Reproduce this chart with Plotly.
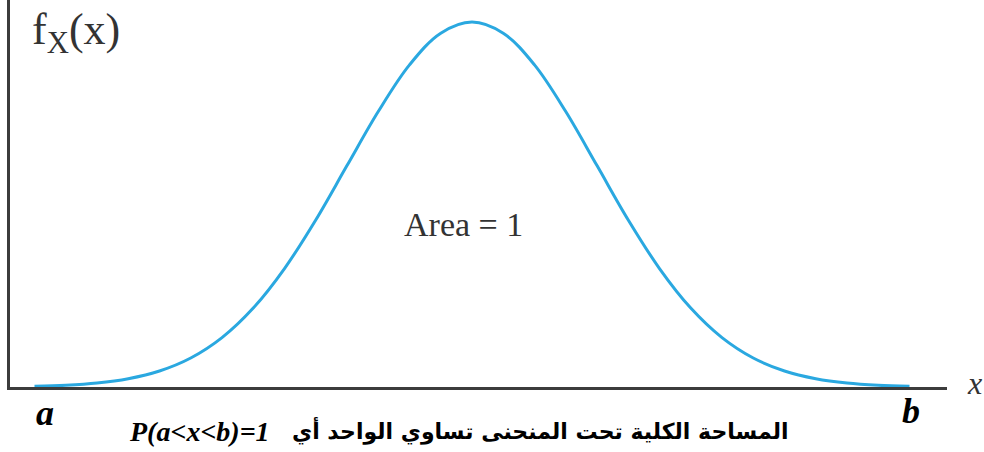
import plotly.graph_objects as go

# Density curve f_X(x), sampled in standard-deviation units
x_vals = [-3.5, -3.25, -3.0, -2.75, -2.5, -2.25, -2.0, -1.75, -1.5, -1.25, -1.0, -0.75, -0.5, -0.25,
          0.0, 0.25, 0.5, 0.75, 1.0, 1.25, 1.5, 1.75, 2.0, 2.25, 2.5, 2.75, 3.0, 3.25, 3.5]
fx_vals = [0.0009, 0.0020, 0.0044, 0.0091, 0.0175, 0.0317, 0.0540, 0.0863, 0.1295, 0.1826, 0.2420, 0.3011, 0.3521, 0.3867,
           0.3989, 0.3867, 0.3521, 0.3011, 0.2420, 0.1826, 0.1295, 0.0863, 0.0540, 0.0317, 0.0175, 0.0091, 0.0044, 0.0020, 0.0009]

curve_color = "#2aa8e0"
axis_color = "#3c3c3c"
serif = "Liberation Serif, Times New Roman, serif"

fig = go.Figure()
fig.add_trace(go.Scatter(
    x=x_vals, y=fx_vals, mode="lines",
    line=dict(color=curve_color, width=3, shape="spline", smoothing=1.0),
    hoverinfo="skip", showlegend=False,
))

axis_common = dict(showline=True, linecolor=axis_color, linewidth=2.5, showgrid=False,
                   zeroline=False, showticklabels=False, ticks="", fixedrange=True)

fig.update_layout(
    width=984, height=452,
    margin=dict(l=10, r=37, t=0, b=65, pad=0),
    paper_bgcolor="white", plot_bgcolor="white",
    xaxis=dict(range=[-3.696, 3.8], **axis_common),
    yaxis=dict(range=[0, 0.423], **axis_common),
)

annotations = [
    # y-axis label
    dict(text="f<sub>X</sub>(x)", x=0.0213, y=0.915, xref="paper", yref="paper",
         xanchor="left", yanchor="middle", showarrow=False,
         font=dict(family=serif, size=44, color="#333333")),
    # area label inside the curve
    dict(text="Area = 1", x=-0.07, y=0.178, xref="x", yref="y",
         xanchor="center", yanchor="middle", showarrow=False,
         font=dict(family=serif, size=34, color="#333333")),
    # x-axis label
    dict(text="<i>x</i>", x=1.029, y=0.01, xref="paper", yref="paper",
         xanchor="center", yanchor="middle", showarrow=False,
         font=dict(family=serif, size=32, color="#333333")),
    # interval end points
    dict(text="<b><i>a</i></b>", x=0.0374, y=-0.067, xref="paper", yref="paper",
         xanchor="center", yanchor="middle", showarrow=False,
         font=dict(family=serif, size=36, color="black")),
    dict(text="<b><i>b</i></b>", x=0.962, y=-0.062, xref="paper", yref="paper",
         xanchor="center", yanchor="middle", showarrow=False,
         font=dict(family=serif, size=36, color="black")),
    # caption
    dict(text="<b><i>P(a&lt;x&lt;b)=1</i></b>", x=0.1249, y=-0.115, xref="paper", yref="paper",
         xanchor="left", yanchor="middle", showarrow=False,
         font=dict(family=serif, size=28, color="black")),
    dict(text="<b>المساحة الكلية تحت المنحنى تساوي الواحد أي</b>", x=0.8324, y=-0.113,
         xref="paper", yref="paper", xanchor="right", yanchor="middle", showarrow=False,
         font=dict(family="DejaVu Sans, Noto Sans, sans-serif", size=22, color="black")),
]
fig.update_layout(annotations=annotations)

fig.write_html("out.html", config={"displayModeBar": False})
